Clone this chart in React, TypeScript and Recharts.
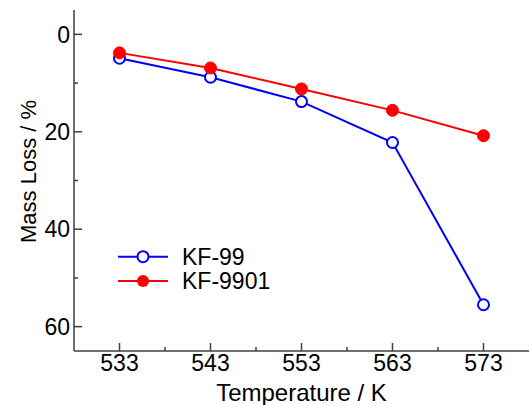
import React from 'react';
import { LineChart, Line, XAxis, YAxis, Legend } from 'recharts';

const temperatures = [533, 543, 553, 563, 573];
const kf99 = [4.9, 8.8, 13.8, 22.2, 55.5];
const kf9901 = [3.8, 6.9, 11.2, 15.6, 20.8];

const xTicks = [533, 538, 543, 548, 553, 558, 563, 568, 573];
const yTicks = [0, 10, 20, 30, 40, 50, 60];

const data = temperatures.map((t, i) => ({ temp: t, kf99: kf99[i], kf9901: kf9901[i] }));

const FONT = '"Liberation Sans", Arial, sans-serif';
const AXIS = '#404040';
const BLUE = '#0000ff';
const RED = '#ff0000';

const isMajorX = (v: number) => (v - 533) % 10 === 0;
const isMajorY = (v: number) => v % 20 === 0;

// bottom axis: ticks point up into the plot, labels below
const BottomTick = ({ x, y, payload }: any) => {
    const major = isMajorX(payload.value);
    return (
        <g>
            <line x1={x} x2={x} y1={y} y2={y - (major ? 8 : 4)} stroke={AXIS} strokeWidth={1.5} />
            {major && (
                <text x={x} y={y + 20} textAnchor="middle" fontSize={23} fontFamily={FONT} fill="#000">
                    {payload.value}
                </text>
            )}
        </g>
    );
};

const TopTick = ({ x, y, payload }: any) => {
    const major = isMajorX(payload.value);
    return <line x1={x} x2={x} y1={y} y2={y + (major ? 8 : 4)} stroke={AXIS} strokeWidth={1.5} />;
};

const LeftTick = ({ x, y, payload }: any) => {
    const major = isMajorY(payload.value);
    return (
        <g>
            <line x1={x} x2={x + (major ? 8 : 4)} y1={y} y2={y} stroke={AXIS} strokeWidth={1.5} />
            {major && (
                <text x={x - 4} y={y} dy="0.36em" textAnchor="end" fontSize={23} fontFamily={FONT} fill="#000">
                    {payload.value}
                </text>
            )}
        </g>
    );
};

const RightTick = ({ x, y, payload }: any) => {
    const major = isMajorY(payload.value);
    return <line x1={x} x2={x - (major ? 8 : 4)} y1={y} y2={y} stroke={AXIS} strokeWidth={1.5} />;
};

const OpenDot = ({ cx, cy }: any) => (
    <circle cx={cx} cy={cy} r={5.5} fill="#fff" stroke={BLUE} strokeWidth={2} />
);
const FilledDot = ({ cx, cy }: any) => <circle cx={cx} cy={cy} r={6} fill={RED} stroke={RED} strokeWidth={1} />;

const renderLegend = ({ payload }: any) => (
    <svg width={170} height={52}>
        {(payload || []).map((entry: any, i: number) => {
            const cy = 12.7 + i * 24.3;
            const open = entry.dataKey === 'kf99';
            return (
                <g key={entry.value}>
                    <line x1={6} x2={56} y1={cy} y2={cy} stroke={entry.color} strokeWidth={2} />
                    {open ? (
                        <circle cx={31} cy={cy} r={5.5} fill="#fff" stroke={entry.color} strokeWidth={2} />
                    ) : (
                        <circle cx={31} cy={cy} r={6} fill={entry.color} />
                    )}
                    <text x={70} y={cy} dy="0.36em" fontSize={23} fontFamily={FONT} fill="#000">
                        {entry.value}
                    </text>
                </g>
            );
        })}
    </svg>
);

export default function App() {
    return (
        <div style={{ position: 'absolute', left: 0, top: 0, width: 531, height: 405, background: '#fff' }}>
            <LineChart width={531} height={405} data={data} margin={{ top: 10, right: 2, bottom: 0, left: 0 }}>
                <XAxis
                    dataKey="temp"
                    type="number"
                    domain={[528, 578]}
                    ticks={xTicks}
                    interval={0}
                    height={54}
                    tickSize={0}
                    tickMargin={0}
                    tick={<BottomTick />}
                    axisLine={{ stroke: AXIS, strokeWidth: 1.5 }}
                    label={(props: any) => {
                        const vb = props.viewBox;
                        return (
                            <text x={vb.x + vb.width / 2} y={vb.y + 50} textAnchor="middle" fontSize={24} fontFamily={FONT} fill="#000">
                                Temperature / K
                            </text>
                        );
                    }}
                />
                <XAxis
                    xAxisId="top"
                    dataKey="temp"
                    orientation="top"
                    type="number"
                    domain={[528, 578]}
                    ticks={xTicks}
                    interval={0}
                    height={0}
                    tickSize={0}
                    tickMargin={0}
                    tick={<TopTick />}
                    axisLine={{ stroke: AXIS, strokeWidth: 1.5 }}
                />
                <YAxis
                    type="number"
                    reversed
                    domain={[-5, 65]}
                    ticks={yTicks}
                    interval={0}
                    width={74}
                    tickSize={0}
                    tickMargin={0}
                    tick={<LeftTick />}
                    axisLine={{ stroke: AXIS, strokeWidth: 1.5 }}
                    label={(props: any) => {
                        const vb = props.viewBox;
                        const x = vb.x + 28;
                        const y = vb.y + vb.height / 2 - 9;
                        return (
                            <text x={x} y={y} transform={`rotate(-90, ${x}, ${y})`} textAnchor="middle" dy="0.36em" fontSize={22} fontFamily={FONT} fill="#000">
                                Mass Loss / %
                            </text>
                        );
                    }}
                />
                <YAxis
                    yAxisId="right"
                    orientation="right"
                    type="number"
                    reversed
                    domain={[-5, 65]}
                    ticks={yTicks}
                    interval={0}
                    width={0}
                    tickSize={0}
                    tickMargin={0}
                    tick={<RightTick />}
                    axisLine={{ stroke: AXIS, strokeWidth: 1.5 }}
                />
                <Legend
                    layout="vertical"
                    align="center"
                    verticalAlign="middle"
                    content={renderLegend}
                    wrapperStyle={{ position: 'absolute', left: 112, top: 244, width: 170, height: 52 }}
                />
                <Line
                    name="KF-99"
                    dataKey="kf99"
                    stroke={BLUE}
                    strokeWidth={2}
                    dot={<OpenDot />}
                    activeDot={false}
                    isAnimationActive={false}
                />
                <Line
                    name="KF-9901"
                    dataKey="kf9901"
                    stroke={RED}
                    strokeWidth={2}
                    dot={<FilledDot />}
                    activeDot={false}
                    isAnimationActive={false}
                />
            </LineChart>
        </div>
    );
}
